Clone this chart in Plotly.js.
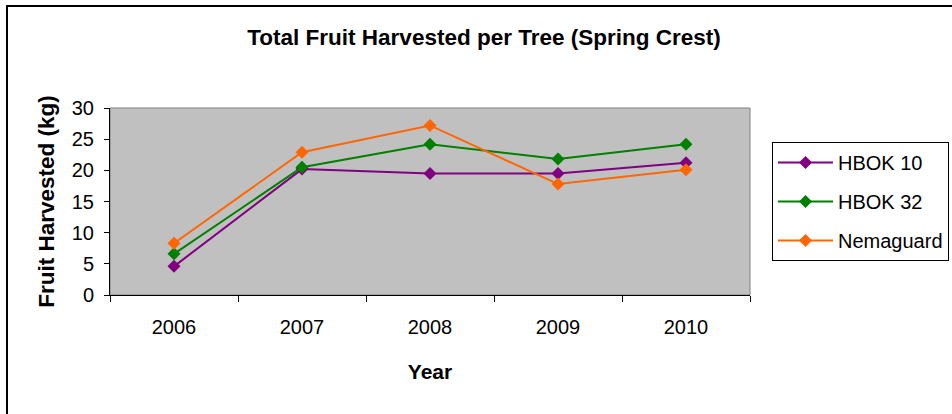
<!DOCTYPE html>
<html>
<head>
<meta charset="utf-8">
<script src="https://cdn.plot.ly/plotly-3.0.1.min.js"></script>
<style>
  html, body { margin: 0; padding: 0; background: #ffffff; }
  #chart { width: 952px; height: 414px; }
</style>
</head>
<body>
<div id="chart"></div>
<script>
const years = ["2006", "2007", "2008", "2009", "2010"];
const hbok10 = [4.6, 20.2, 19.5, 19.5, 21.2];
const hbok32 = [6.6, 20.5, 24.2, 21.8, 24.2];
const nemaguard = [8.3, 22.9, 27.2, 17.8, 20.1];
const seriesNames = ["HBOK 10", "HBOK 32", "Nemaguard"];
const seriesColors = ["#800080", "#008000", "#FF6600"];
const yTicks = [0, 5, 10, 15, 20, 25, 30];

const FONT = "Liberation Sans, Arial, sans-serif";
const values = [hbok10, hbok32, nemaguard];

const traces = values.map((v, i) => ({
  type: "scatter",
  mode: "lines+markers",
  name: seriesNames[i],
  legendgroup: "g" + i,
  x: years,
  y: v,
  line: { color: seriesColors[i], width: 2 },
  marker: { symbol: "diamond", size: 10, color: seriesColors[i] }
}));

const L = 110, R = 202, T = 108, B = 119;
const W = 952 - L - R, H = 414 - T - B;
const px = p => (p - L) / W;
const py = p => (414 - B - p) / H;

const layout = {
  width: 952,
  height: 414,
  margin: { l: L, r: R, t: T, b: B, pad: 0, autoexpand: false },
  paper_bgcolor: "#ffffff",
  plot_bgcolor: "#C0C0C0",
  font: { family: FONT, color: "#000000", size: 20 },
  title: {
    text: "<b>Total Fruit Harvested per Tree (Spring Crest)</b>",
    font: { family: FONT, size: 22.5, color: "#000000" },
    xref: "container", yref: "container",
    x: 484 / 952, y: 1 - 37 / 414, xanchor: "center", yanchor: "middle"
  },
  xaxis: {
    type: "category",
    categoryorder: "array",
    categoryarray: years,
    range: [-0.5, years.length - 0.5],
    tickvals: years,
    ticktext: years,
    tickson: "boundaries",
    ticks: "outside",
    ticklen: 6,
    tickcolor: "#000000",
    showline: true,
    linecolor: "#000000",
    linewidth: 1,
    showgrid: false,
    zeroline: false,
    tickfont: { family: FONT, size: 20 },
    ticklabelstandoff: 14,
    title: {
      text: "<b>Year</b>",
      font: { family: FONT, size: 21 },
      standoff: 27
    },
    fixedrange: true
  },
  yaxis: {
    range: [0, 30],
    tickvals: yTicks,
    ticktext: yTicks.map(String),
    ticks: "outside",
    ticklen: 5,
    tickcolor: "#000000",
    showline: true,
    linecolor: "#000000",
    linewidth: 1,
    showgrid: false,
    zeroline: false,
    tickfont: { family: FONT, size: 20 },
    ticklabelstandoff: 6,
    title: {
      text: "<b>Fruit Harvested (kg)</b>",
      font: { family: FONT, size: 22.5 },
      standoff: 10
    },
    fixedrange: true
  },
  legend: {
    x: px(772), y: py(142),
    xanchor: "left", yanchor: "top",
    bgcolor: "#ffffff",
    bordercolor: "#000000",
    borderwidth: 1,
    font: { family: FONT, size: 20, color: "#000000" },
    traceorder: "grouped",
    tracegroupgap: 10,
    itemwidth: 55
  },
  shapes: [
    {
      type: "rect", xref: "paper", yref: "paper",
      x0: 0, x1: 1, y0: 0, y1: 1,
      line: { color: "#808080", width: 1 },
      layer: "below"
    },
    {
      type: "rect", xref: "paper", yref: "paper",
      x0: px(7), x1: px(1100), y0: py(600), y1: py(6),
      line: { color: "#000000", width: 2 },
      fillcolor: "rgba(0,0,0,0)",
      layer: "above"
    }
  ],
  showlegend: true
};

Plotly.newPlot("chart", traces, layout, { displayModeBar: false, staticPlot: true });
</script>
</body>
</html>
